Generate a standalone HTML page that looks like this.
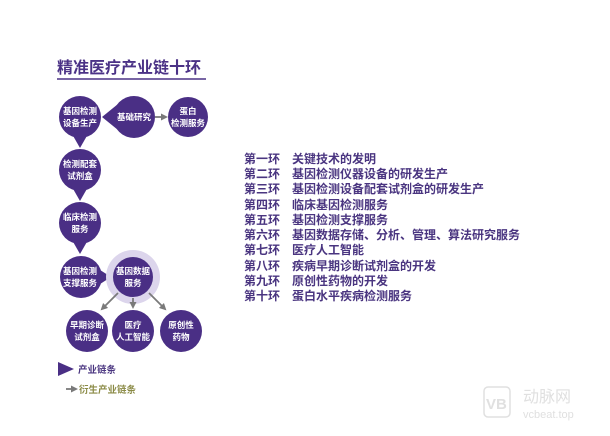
<!DOCTYPE html>
<html><head><meta charset="utf-8"><style>
html,body{margin:0;padding:0;background:#fff;}
body{width:610px;height:431px;overflow:hidden;font-family:"Liberation Sans","Noto Sans CJK SC",sans-serif;}
</style></head><body>
<svg width="610" height="431" xmlns="http://www.w3.org/2000/svg" font-family="Liberation Sans, Noto Sans CJK SC, sans-serif">
<defs><marker id="ar" markerUnits="userSpaceOnUse" markerWidth="7" markerHeight="7" refX="5" refY="3.5" orient="auto"><path d="M0,0 L7,3.5 L0,7 z" fill="#7a7a7a"/></marker></defs>
<text x="57" y="73" font-size="16" font-weight="bold" fill="#4b3286">精准医疗产业链十环</text>
<line x1="57" y1="79" x2="206" y2="79" stroke="#4b3286" stroke-width="1.5"/>
<g fill="#4a2f85">
<circle cx="80" cy="117" r="21"/><path d="M72,134 L80,148 L88,134 z"/>
<circle cx="134" cy="117" r="21"/><path d="M118,104 L102,117 L118,130 z"/>
<circle cx="188" cy="117" r="20"/>
<circle cx="80" cy="170" r="21"/><path d="M72,187 L80,201 L88,187 z"/>
<circle cx="80" cy="223" r="21"/><path d="M72,240 L80,254 L88,240 z"/>
<circle cx="81" cy="277" r="21"/><path d="M97,268 L111,277 L97,286 z"/>
</g>
<circle cx="133" cy="277" r="27" fill="#dcd5ec"/>
<circle cx="133" cy="277" r="20" fill="#4a2f85"/>
<g fill="#4a2f85"><circle cx="87" cy="331" r="21"/><circle cx="133" cy="331" r="21"/><circle cx="181" cy="331" r="21"/></g>
<g stroke="#7a7a7a" stroke-width="1.8" marker-end="url(#ar)">
<line x1="155" y1="117" x2="166" y2="117"/>
<line x1="118" y1="293" x2="102" y2="309"/>
<line x1="133" y1="298" x2="133" y2="307"/>
<line x1="149" y1="293" x2="165" y2="309"/>
</g>
<g fill="#fff" font-size="8.5" font-weight="bold" text-anchor="middle">
<text x="80" y="114">基因检测</text><text x="80" y="126">设备生产</text>
<text x="134" y="120">基础研究</text>
<text x="188" y="114">蛋白</text><text x="188" y="126">检测服务</text>
<text x="80" y="167">检测配套</text><text x="80" y="179">试剂盒</text>
<text x="80" y="220">临床检测</text><text x="80" y="232">服务</text>
<text x="80" y="274">基因检测</text><text x="80" y="286">支撑服务</text>
<text x="133" y="274">基因数据</text><text x="133" y="286">服务</text>
<text x="87" y="328">早期诊断</text><text x="87" y="340">试剂盒</text>
<text x="133" y="328">医疗</text><text x="133" y="340">人工智能</text>
<text x="181" y="328">原创性</text><text x="181" y="340">药物</text>
</g>
<g font-size="12" font-weight="bold" fill="#4a3580">
<text x="244" y="163">第一环</text><text x="292" y="163">关键技术的发明</text>
<text x="244" y="178">第二环</text><text x="292" y="178">基因检测仪器设备的研发生产</text>
<text x="244" y="193">第三环</text><text x="292" y="193">基因检测设备配套试剂盒的研发生产</text>
<text x="244" y="209">第四环</text><text x="292" y="209">临床基因检测服务</text>
<text x="244" y="224">第五环</text><text x="292" y="224">基因检测支撑服务</text>
<text x="244" y="239">第六环</text><text x="292" y="239">基因数据存储、分析、管理、算法研究服务</text>
<text x="244" y="254">第七环</text><text x="292" y="254">医疗人工智能</text>
<text x="244" y="270">第八环</text><text x="292" y="270">疾病早期诊断试剂盒的开发</text>
<text x="244" y="285">第九环</text><text x="292" y="285">原创性药物的开发</text>
<text x="244" y="300">第十环</text><text x="292" y="300">蛋白水平疾病检测服务</text>
</g>
<path d="M58,362 L74,369 L58,376 z" fill="#4a2f85"/>
<text x="78" y="373" font-size="9.5" font-weight="bold" fill="#4a3580">产业链条</text>
<line x1="66" y1="389" x2="76" y2="389" stroke="#7a7a7a" stroke-width="1.8" marker-end="url(#ar)"/>
<text x="79" y="393" font-size="9.5" font-weight="bold" fill="#8a8a45">衍生产业链条</text>
<rect x="484" y="387" width="26" height="30" rx="4" fill="none" stroke="#e0e0e0" stroke-width="1.5"/>
<text x="486" y="409" font-size="15" font-weight="bold" fill="#e0e0e0">VB</text>
<text x="523" y="402" font-size="16" fill="#e0e0e0">动脉网</text>
<text x="523" y="418" font-size="11" fill="#e0e0e0">vcbeat.top</text>
</svg>
</body></html>
